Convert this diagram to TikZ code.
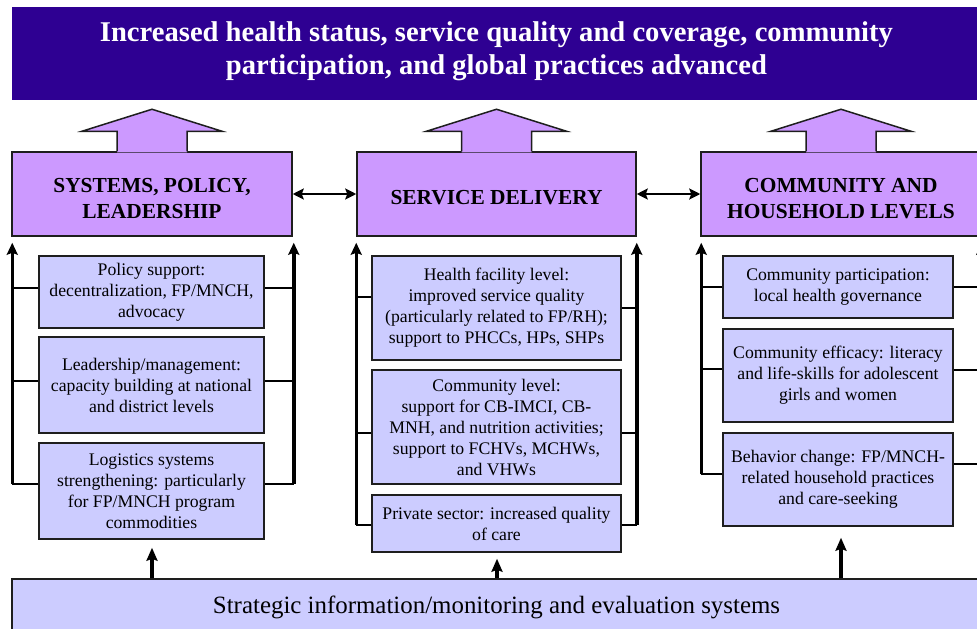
\documentclass[tikz,border=0pt]{standalone}
\usepackage{fontspec}
\setmainfont{LiberationSerif}[
  Extension=.ttf,
  UprightFont=*-Regular,
  BoldFont=*-Bold,
  ItalicFont=*-Italic,
  BoldItalicFont=*-BoldItalic]
\usetikzlibrary{arrows.meta,calc}

\definecolor{bannerblue}{RGB}{46,0,146}
\definecolor{headpurple}{RGB}{204,153,255}
\definecolor{subblue}{RGB}{204,204,255}
\definecolor{edgegray}{RGB}{30,30,30}

\tikzset{
  edge/.style={draw=edgegray, line width=1.5pt},
  headbox/.style={edge, fill=headpurple, inner sep=0pt},
  headtext/.style={align=center, inner sep=0pt,
    font=\fontsize{21.4}{26}\selectfont\bfseries},
  subbox/.style={edge, fill=subblue, inner sep=0pt, align=center,
    font=\fontsize{17.7}{21}\selectfont},
  rail/.style={line width=3.5pt, -{Stealth[length=12pt,width=11pt,inset=2pt]}},
  branch/.style={line width=2.5pt},
  dbl/.style={line width=2.5pt, {Stealth[length=11pt,width=11pt,inset=2pt]}-{Stealth[length=11pt,width=11pt,inset=2pt]}},
  feed/.style={line width=4pt, -{Stealth[length=13pt,width=11pt,inset=2pt]}},
}

\begin{document}
\begin{tikzpicture}[x=1pt,y=-1pt]
\useasboundingbox (0,0) rectangle (977,629);
\clip (0,0) rectangle (977,629);

% goal banner
\node[fill=bannerblue, minimum width=969pt, minimum height=93pt, inner sep=0pt]
  (goal) at (496.5,53.5) {};
\node[text=white, align=center, inner sep=0pt,
  font=\fontsize{28.6}{33}\selectfont\bfseries] (goaltext) at (496.5,51)
  {Increased health status, service quality and coverage, community\\
   participation, and global practices advanced};

% column headers
\node[headbox, minimum width=280pt, minimum height=84pt] (sp) at (152,194) {};
\node[headbox, minimum width=279pt, minimum height=84pt] (sd) at (496.5,194) {};
\node[headbox, minimum width=280pt, minimum height=84pt] (ch) at (841,194) {};
\node[headtext] (sptext) at ($(sp)+(0,5)$) {SYSTEMS, POLICY,\\ LEADERSHIP};
\node[headtext] (sdtext) at ($(sd)+(0,4)$) {SERVICE DELIVERY};
\node[headtext] (chtext) at ($(ch)+(0,5)$) {COMMUNITY AND\\ HOUSEHOLD LEVELS};

% block arrows on top of the headers
\foreach \n in {sp,sd,ch}{
  \fill[headpurple] ($(\n.north)+(-35,1)$) -- ($(\n.north)+(-35,-20)$)
    -- ($(\n.north)+(-70,-20)$) -- ($(\n.north)+(0,-42)$)
    -- ($(\n.north)+(70,-20)$) -- ($(\n.north)+(35,-20)$)
    -- ($(\n.north)+(35,1)$) -- cycle;
  \draw[edge, line join=miter] ($(\n.north)+(-35,0)$) -- ($(\n.north)+(-35,-20)$)
    -- ($(\n.north)+(-70,-20)$) -- ($(\n.north)+(0,-42)$)
    -- ($(\n.north)+(70,-20)$) -- ($(\n.north)+(35,-20)$)
    -- ($(\n.north)+(35,0)$);
}

% links between headers
\draw[dbl] (sp.east) -- (sd.west);
\draw[dbl] (sd.east) -- (ch.west);

% systems, policy, leadership activities
\node[subbox, minimum width=225pt, minimum height=72pt] (s1) at (151.5,292)
  {Policy support:\\ decentralization, FP/MNCH,\\ advocacy};
\node[subbox, minimum width=225pt, minimum height=96pt] (s2) at (151.5,385)
  {Leadership/management:\\ capacity building at national\\ and district levels};
\node[subbox, minimum width=225pt, minimum height=96pt] (s3) at (151.5,491)
  {Logistics systems\\ strengthening: particularly\\ for FP/MNCH program\\ commodities};

% service delivery activities
\node[subbox, minimum width=249pt, minimum height=104pt] (m1) at (496.5,308)
  {Health facility level:\\ improved service quality\\ (particularly related to FP/RH);\\ support to PHCCs, HPs, SHPs};
\node[subbox, minimum width=249pt, minimum height=114pt] (m2) at (496.5,427)
  {Community level:\\ support for CB-IMCI, CB-\\ MNH, and nutrition activities;\\ support to FCHVs, MCHWs,\\ and VHWs};
\node[subbox, minimum width=249pt, minimum height=57pt] (m3) at (496.5,523.5)
  {Private sector: increased quality\\ of care};

% community and household activities
\node[subbox, minimum width=230pt, minimum height=62pt] (r1) at (838,287)
  {Community participation:\\ local health governance};
\node[subbox, minimum width=230pt, minimum height=93pt] (r2) at (838,375.5)
  {Community efficacy: literacy\\ and life-skills for adolescent\\ girls and women};
\node[subbox, minimum width=230pt, minimum height=93pt] (r3) at (838,479.5)
  {Behavior change: FP/MNCH-\\ related household practices\\ and care-seeking};

% monitoring and evaluation base
\node[subbox, minimum width=969pt, minimum height=56pt,
  font=\fontsize{24.9}{30}\selectfont] (me) at (496.5,607)
  {Strategic information/monitoring and evaluation systems};

% rails feeding each header
\coordinate (spl) at ($(sp.south west)+(1,0)$);
\coordinate (spr) at ($(sp.south east)+(1,0)$);
\coordinate (sdl) at (sd.south west);
\coordinate (sdr) at (sd.south east);
\coordinate (chl) at ($(ch.south west)+(1,0)$);
\coordinate (chr) at (ch.south east);

% left column
\draw[branch] ([yshift=4pt]s1.west) -- ([yshift=4pt]s1.west -| spl);
\draw[branch] ([yshift=4pt]s2.west) -- ([yshift=4pt]s2.west -| spl);
\draw[branch] ([yshift=4pt]s1.east) -- ([yshift=4pt]s1.east -| spr);
\draw[branch] ([yshift=4pt]s2.east) -- ([yshift=4pt]s2.east -| spr);
\draw[branch] ([yshift=7pt]s3.west) -- ([yshift=7pt]s3.west -| spl);
\draw[branch] ([yshift=7pt]s3.east) -- ([yshift=7pt]s3.east -| spr);
\draw[rail, shorten >=6pt] ([yshift=7pt]s3.west -| spl) -- (spl);
\draw[rail, shorten >=6pt] ([yshift=7pt]s3.east -| spr) -- (spr);

% middle column
\draw[branch] ([yshift=11pt]m1.west) -- ([yshift=11pt]m1.west -| sdl);
\draw[branch] (m1.east) -- (m1.east -| sdr);
\draw[branch] ([yshift=-6pt]m2.west) -- ([yshift=-6pt]m2.west -| sdl);
\draw[branch] ([yshift=-6pt]m2.east) -- ([yshift=-6pt]m2.east -| sdr);
\draw[branch] ([yshift=-1.5pt]m3.west) -- ([yshift=-1.5pt]m3.west -| sdl);
\draw[branch] ([yshift=-1.5pt]m3.east) -- ([yshift=-1.5pt]m3.east -| sdr);
\draw[rail, shorten >=6pt] ([yshift=-1.5pt]m3.west -| sdl) -- (sdl);
\draw[rail, shorten >=6pt] ([yshift=-1.5pt]m3.east -| sdr) -- (sdr);

% right column
\draw[branch] (r1.west) -- (r1.west -| chl);
\draw[branch] (r1.east) -- (r1.east -| chr);
\draw[branch] ([yshift=6.5pt]r2.west) -- ([yshift=6.5pt]r2.west -| chl);
\draw[branch] ([yshift=5.5pt]r2.east) -- ([yshift=5.5pt]r2.east -| chr);
\draw[branch] ([yshift=5.5pt]r3.west) -- ([yshift=5.5pt]r3.west -| chl);
\draw[branch] ([yshift=15.5pt]r3.east) -- ([yshift=15.5pt]r3.east -| chr);
\draw[rail, shorten >=6pt] ([yshift=5.5pt]r3.west -| chl) -- (chl);
\draw[rail, shorten >=6pt] ([yshift=15.5pt]r3.east -| chr) -- (chr);

% monitoring feeds
\draw[feed, shorten >=8pt] ([xshift=0.5pt]s3.south |- me.north) -- ([xshift=0.5pt]s3.south);
\draw[feed, shorten >=6pt] ([xshift=0.5pt]m3.south |- me.north) -- ([xshift=0.5pt]m3.south);
\draw[feed, shorten >=11pt] ([xshift=3pt]r3.south |- me.north) -- ([xshift=3pt]r3.south);
\end{tikzpicture}
\end{document}
